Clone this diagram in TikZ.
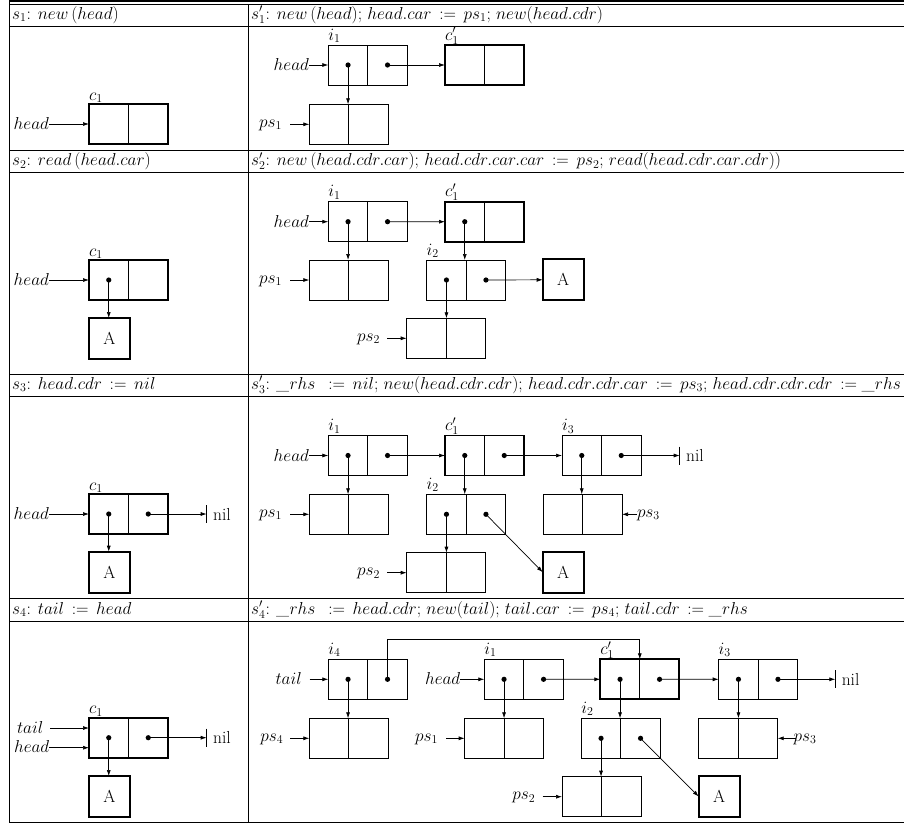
\documentclass[tikz,border=0pt]{standalone}
\usetikzlibrary{arrows.meta,calc}
\tikzset{
  cellbox/.style={draw, line width=0.75pt, minimum width=79pt, minimum height=40pt, inner sep=0pt, outer sep=0pt},
  thickc/.style={line width=1.8pt},
  divl/.style={line width=0.75pt},
  abox/.style={draw, line width=1.8pt, minimum width=41pt, minimum height=41pt, inner sep=0pt, outer sep=0pt, anchor=north west},
  arr/.style={line width=0.7pt, -{Latex[length=6pt,width=4pt]}},
  lab/.style={inner sep=0pt, outer sep=0pt},
  hdr/.style={inner sep=0pt, anchor=base west},
  nilnode/.style={anchor=west, inner sep=0pt, outer sep=0pt, minimum height=18pt},
  rule/.style={line width=0.9pt},
  every node/.style={font=\fontsize{17.4}{20.8}\selectfont}
}
\newcommand\cons[4][]{%
  \node[cellbox,#1,anchor=north west] (#2) at (#3,#4) {};
  \draw[divl] (#2.north) -- (#2.south);
  \coordinate (#2-a) at ($(#2.west)!.5!(#2.center)$);
  \coordinate (#2-d) at ($(#2.center)!.5!(#2.east)$);}
\newcommand\dotat[1]{\fill (#1) circle (2.6pt);}
\newcommand\ptrdown[2]{\dotat{#1}\draw[arr] (#1) -- (#1 |- #2.north);}
\newcommand\ptrto[2]{\dotat{#1}\draw[arr] (#1) -- (#2);}
\newcommand\boxlab[2]{\node[lab,anchor=base west] (#1-l) at ([yshift=5pt]#1.north west) {#2};}
\newcommand\nilat[3]{%
  \node[nilnode] (#1) at (#3 -| #2,0) {\hspace{6.5pt}nil};
  \draw[divl] (#1.north west) -- (#1.south west);}
\begin{document}
\begin{tikzpicture}[x=1pt,y=-1pt]
\useasboundingbox (0,0) rectangle (904,825);
% ---------- table rules
\draw[line width=1.4pt] (9,1) -- (904,1);
\draw[rule] (9,4.7) -- (904,4.7);
\foreach \yy in {26,150,172.7,374,396,598.3,621,822.7}{\draw[rule] (9,\yy) -- (904,\yy);}
\draw[rule] (9,1) -- (9,822.7);
\draw[rule] (248.3,4.7) -- (248.3,822.7);
% ---------- headers
\node[hdr] (h1l) at (12,19) {$s_1$: $new\,(head)$};
\node[hdr] (h1r) at (251,19) {$s'_1$: $new\,(head)$; $head.car\,:=\,ps_1$; $new(head.cdr)$};
\node[hdr] (h2l) at (12,165.5) {$s_2$: $read\,(head.car)$};
\node[hdr] (h2r) at (251,165.5) {$s'_2$: $new\,(head.cdr.car)$; $head.cdr.car.car\,:=\,ps_2$; $read(head.cdr.car.cdr))$};
\node[hdr] (h3l) at (12,389) {$s_3$: $head.cdr\,:=\,nil$};
\node[hdr] (h3r) at (251,389) {$s'_3$: \textit{\_}$rhs\ \,:=\,nil$; $new(head.cdr.cdr)$; $head.cdr.cdr.car\,:=\,ps_3$; $head.cdr.cdr.cdr\,:=$ \textit{\_}$rhs$};
\node[hdr] (h4l) at (12,614) {$s_4$: $tail\,:=\,head$};
\node[hdr] (h4r) at (251,614) {$s'_4$: \textit{\_}$rhs\ \,:=\,head.cdr$; $new(tail)$; $tail.car\,:=\,ps_4$; $tail.cdr\,:=$ \textit{\_}$rhs$};
% =============== ROW 1
% left
\cons[thickc]{ac1}{89}{104}
\node[lab,anchor=base west] (ac1-l) at ([yshift=4pt]ac1.north west) {$c_1$};
\node[lab,anchor=base east] (ahead) at (49,129.8) {$head$};
\draw[arr] (ahead.east |- ac1.west) -- (ac1.west);
% right
\cons{ai1}{328.3}{45}
\cons[thickc]{ac1p}{445}{45}
\cons{aps1}{309.3}{104.3}
\boxlab{ai1}{$i_1$}
\boxlab{ac1p}{$c'_1$}
\node[lab,anchor=base east] (aheadr) at (309,70.5) {$head$};
\draw[arr] (aheadr.east |- ai1.west) -- (ai1.west);
\node[lab,anchor=base east] (apsl1) at (282,127.3) {$ps_1$};
\draw[arr] ($(apsl1.east |- aps1.west)+(8,0)$) -- (aps1.west);
\ptrdown{ai1-a}{aps1}
\ptrto{ai1-d}{ac1p.west}
% =============== ROW 2
% left
\cons[thickc]{bc1}{89}{260}
\node[lab,anchor=base west] (bc1-l) at ([yshift=4pt]bc1.north west) {$c_1$};
\node[abox] (bA) at (89,318) {A};
\node[lab,anchor=base east] (bhead) at (49,285.8) {$head$};
\draw[arr] (bhead.east |- bc1.west) -- (bc1.west);
\ptrdown{bc1-a}{bA}
% right
\cons{bi1}{328.3}{201.7}
\cons[thickc]{bc1p}{445}{201.7}
\cons{bps1}{309.3}{260}
\cons{bi2}{426.7}{260}
\node[abox] (bA2) at (542.7,259.3) {A};
\cons{bps2}{406.7}{318.3}
\boxlab{bi1}{$i_1$}
\boxlab{bc1p}{$c'_1$}
\boxlab{bi2}{$i_2$}
\node[lab,anchor=base east] (bheadr) at (309,227.2) {$head$};
\draw[arr] (bheadr.east |- bi1.west) -- (bi1.west);
\node[lab,anchor=base east] (bpsl1) at (282,283) {$ps_1$};
\draw[arr] ($(bpsl1.east |- bps1.west)+(8,0)$) -- (bps1.west);
\node[lab,anchor=base east] (bpsl2) at (380,341.3) {$ps_2$};
\draw[arr] ($(bpsl2.east |- bps2.west)+(7,0)$) -- (bps2.west);
\ptrdown{bi1-a}{bps1}
\ptrto{bi1-d}{bc1p.west}
\ptrdown{bc1p-a}{bi2}
\ptrto{bi2-d}{bA2.west}
\ptrdown{bi2-a}{bps2}
% =============== ROW 3
% left
\cons[thickc]{cc1}{89}{494}
\node[lab,anchor=base west] (cc1-l) at ([yshift=4pt]cc1.north west) {$c_1$};
\node[abox] (cA) at (89,551.7) {A};
\node[lab,anchor=base east] (chead) at (49,519.8) {$head$};
\draw[arr] (chead.east |- cc1.west) -- (cc1.west);
\nilat{cnil}{206.7}{cc1-d}
\ptrdown{cc1-a}{cA}
\ptrto{cc1-d}{cnil.west}
% right
\cons{ci1}{328.3}{435.5}
\cons[thickc]{cc1p}{445}{435.5}
\cons{ci3}{562}{435.5}
\cons{cps1}{309.3}{494.3}
\cons{ci2}{426.7}{494.3}
\cons{cps3}{543}{494.3}
\cons{cps2}{406.7}{552.7}
\node[abox] (cA2) at (542.7,551.7) {A};
\boxlab{ci1}{$i_1$}
\boxlab{cc1p}{$c'_1$}
\boxlab{ci3}{$i_3$}
\boxlab{ci2}{$i_2$}
\nilat{cnil2}{679.7}{ci3-d}
\node[lab,anchor=base east] (cheadr) at (309,461) {$head$};
\draw[arr] (cheadr.east |- ci1.west) -- (ci1.west);
\node[lab,anchor=base east] (cpsl1) at (282,517.3) {$ps_1$};
\draw[arr] ($(cpsl1.east |- cps1.west)+(8,0)$) -- (cps1.west);
\node[lab,anchor=base east] (cpsl2) at (380,575.7) {$ps_2$};
\draw[arr] ($(cpsl2.east |- cps2.west)+(7,0)$) -- (cps2.west);
\node[lab,anchor=base west] (cpsl3) at (637,517.3) {$ps_3$};
\draw[arr] (cpsl3.west |- cps3.east) -- (cps3.east);
\ptrdown{ci1-a}{cps1}
\ptrto{ci1-d}{cc1p.west}
\ptrdown{cc1p-a}{ci2}
\ptrto{cc1p-d}{ci3.west}
\ptrdown{ci3-a}{cps3}
\ptrto{ci3-d}{cnil2.west}
\ptrdown{ci2-a}{cps2}
\ptrto{ci2-d}{cA2.west}
% =============== ROW 4
% left
\cons[thickc]{dc1}{89}{717.7}
\node[lab,anchor=base west] (dc1-l) at ([yshift=4pt]dc1.north west) {$c_1$};
\node[abox] (dA) at (89,776) {A};
\coordinate (dc1t) at ([yshift=9.7pt]dc1.west);
\coordinate (dc1h) at ([yshift=-10pt]dc1.west);
\node[lab,anchor=base east] (dtail) at (43.3,733.3) {$tail$};
\node[lab,anchor=base east] (dhead) at (49.3,752.8) {$head$};
\draw[arr] ($(dtail.east |- dc1t)+(6.7,0)$) -- (dc1t);
\draw[arr] (dhead.east |- dc1h) -- (dc1h);
\nilat{dnil}{206.7}{dc1-d}
\ptrdown{dc1-a}{dA}
\ptrto{dc1-d}{dnil.west}
% right
\cons{di4}{328.3}{659.3}
\cons{dps4}{309.3}{718.3}
\cons{di1}{484.3}{659.3}
\cons{dps1}{464.7}{718.3}
\cons[thickc]{dc1p}{600.3}{659.3}
\cons{di2}{581.3}{718.3}
\cons{di3}{718.7}{659.3}
\cons{dps3}{698.7}{718.3}
\cons{dps2}{562}{776.7}
\node[abox] (dA2) at (698.7,776) {A};
\boxlab{di4}{$i_4$}
\boxlab{di1}{$i_1$}
\boxlab{dc1p}{$c'_1$}
\boxlab{di3}{$i_3$}
\boxlab{di2}{$i_2$}
\nilat{dnil2}{835.3}{di3-d}
\node[lab,anchor=base east] (dtailr) at (301.7,684.3) {$tail$};
\draw[arr] ($(dtailr.east |- di4.west)+(8,0)$) -- (di4.west);
\node[lab,anchor=base east] (dpsl4) at (283.3,741.3) {$ps_4$};
\draw[arr] ($(dpsl4.east |- dps4.west)+(7,0)$) -- (dps4.west);
\node[lab,anchor=base east] (dheadr) at (460.3,684.8) {$head$};
\draw[arr] (dheadr.east |- di1.west) -- (di1.west);
\node[lab,anchor=base east] (dpsl1) at (438,741.3) {$ps_1$};
\draw[arr] ($(dpsl1.east |- dps1.west)+(8,0)$) -- (dps1.west);
\node[lab,anchor=base east] (dpsl2) at (535.3,799.7) {$ps_2$};
\draw[arr] ($(dpsl2.east |- dps2.west)+(7.4,0)$) -- (dps2.west);
\node[lab,anchor=base west] (dpsl3) at (793.7,741.3) {$ps_3$};
\draw[arr] ($(dpsl3.west |- dps3.east)+(2,0)$) -- (dps3.east);
\coordinate (dturn) at ([yshift=19.5pt]dc1p.north);
\dotat{di4-d}
\draw[arr] (di4-d) |- (dturn) -- (dc1p.north);
\ptrdown{di4-a}{dps4}
\ptrdown{di1-a}{dps1}
\ptrto{di1-d}{dc1p.west}
\ptrdown{dc1p-a}{di2}
\ptrto{dc1p-d}{di3.west}
\ptrdown{di3-a}{dps3}
\ptrto{di3-d}{dnil2.west}
\ptrdown{di2-a}{dps2}
\ptrto{di2-d}{dA2.west}
\end{tikzpicture}
\end{document}
